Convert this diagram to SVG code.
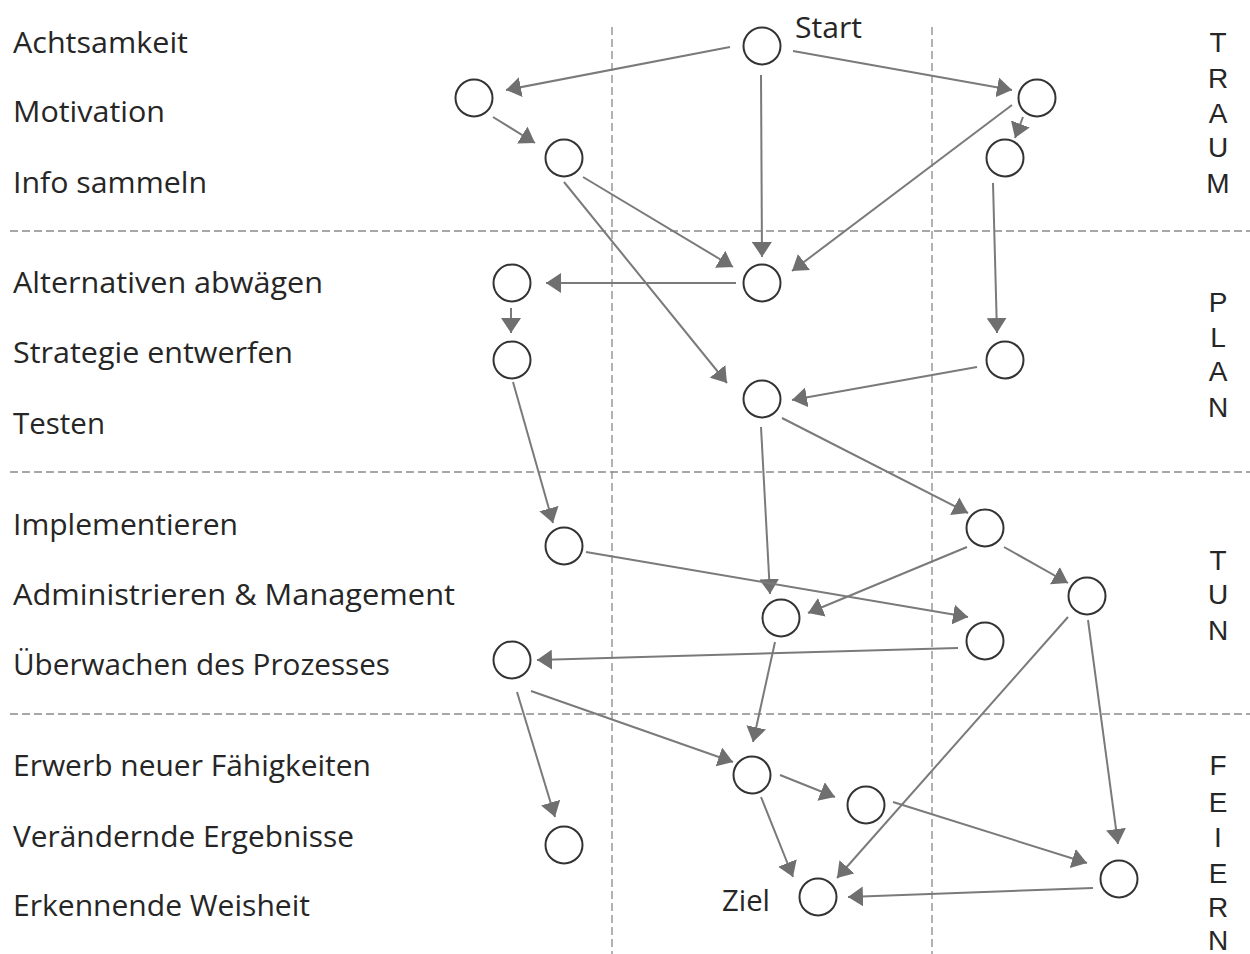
<svg xmlns="http://www.w3.org/2000/svg" width="1250" height="954" viewBox="0 0 1250 954">
<style>
  .lbl { font-family: "Open Sans", "Noto Sans", "Liberation Sans", sans-serif; font-size: 28.5px; fill: #262626; }
  .side { font-family: "Liberation Sans", "Open Sans", sans-serif; font-size: 28px; fill: #262626; text-anchor: middle; }
  .grid { stroke: #8a8a8a; stroke-width: 1.3; stroke-dasharray: 8 4; fill: none; }
  .node { fill: #ffffff; stroke: #333333; stroke-width: 2; }
  .edge { stroke: #7a7a7a; stroke-width: 2; fill: none; marker-end: url(#ah); }
</style>
<defs>
  <marker id="ah" markerUnits="userSpaceOnUse" viewBox="0 0 15 20" markerWidth="15" markerHeight="20" refX="15" refY="10" orient="auto">
    <path d="M0,0 L15,10 L0,20 z" fill="#6f6f6f"/>
  </marker>
</defs>
<rect width="1250" height="954" fill="#ffffff"/>

<g id="grid">
  <line class="grid" x1="612" y1="27" x2="612" y2="954"/>
  <line class="grid" x1="932" y1="27" x2="932" y2="954"/>
  <line class="grid" x1="10" y1="231" x2="1250" y2="231"/>
  <line class="grid" x1="10" y1="472" x2="1250" y2="472"/>
  <line class="grid" x1="10" y1="714" x2="1250" y2="714"/>
</g>

<g id="labels">
  <text class="lbl" x="13" y="53" textLength="175" lengthAdjust="spacingAndGlyphs">Achtsamkeit</text>
  <text class="lbl" x="13" y="122" textLength="152" lengthAdjust="spacingAndGlyphs">Motivation</text>
  <text class="lbl" x="13" y="193" textLength="194" lengthAdjust="spacingAndGlyphs">Info sammeln</text>
  <text class="lbl" x="13" y="293" textLength="310" lengthAdjust="spacingAndGlyphs">Alternativen abwägen</text>
  <text class="lbl" x="13" y="363" textLength="280" lengthAdjust="spacingAndGlyphs">Strategie entwerfen</text>
  <text class="lbl" x="13" y="434" textLength="92" lengthAdjust="spacingAndGlyphs">Testen</text>
  <text class="lbl" x="13" y="535" textLength="225" lengthAdjust="spacingAndGlyphs">Implementieren</text>
  <text class="lbl" x="13" y="605" textLength="442" lengthAdjust="spacingAndGlyphs">Administrieren &amp; Management</text>
  <text class="lbl" x="13" y="675" textLength="377" lengthAdjust="spacingAndGlyphs">Überwachen des Prozesses</text>
  <text class="lbl" x="13" y="776" textLength="358" lengthAdjust="spacingAndGlyphs">Erwerb neuer Fähigkeiten</text>
  <text class="lbl" x="13" y="847" textLength="341" lengthAdjust="spacingAndGlyphs">Verändernde Ergebnisse</text>
  <text class="lbl" x="13" y="916" textLength="297" lengthAdjust="spacingAndGlyphs">Erkennende Weisheit</text>
</g>

<g id="phases">
  <g id="phase-traum">
    <text class="side" x="1218" y="52">T</text>
    <text class="side" x="1218" y="88">R</text>
    <text class="side" x="1218" y="123">A</text>
    <text class="side" x="1218" y="157">U</text>
    <text class="side" x="1218" y="193">M</text>
  </g>
  <g id="phase-plan">
    <text class="side" x="1218" y="312">P</text>
    <text class="side" x="1218" y="347">L</text>
    <text class="side" x="1218" y="381">A</text>
    <text class="side" x="1218" y="417">N</text>
  </g>
  <g id="phase-tun">
    <text class="side" x="1218" y="570">T</text>
    <text class="side" x="1218" y="604">U</text>
    <text class="side" x="1218" y="640">N</text>
  </g>
  <g id="phase-feiern">
    <text class="side" x="1218" y="775">F</text>
    <text class="side" x="1218" y="812">E</text>
    <text class="side" x="1218" y="847">I</text>
    <text class="side" x="1218" y="883">E</text>
    <text class="side" x="1218" y="917">R</text>
    <text class="side" x="1218" y="950">N</text>
  </g>
</g>

<g id="connectors">
  <line class="edge" x1="730" y1="47" x2="506" y2="90"/>
  <line class="edge" x1="493" y1="117" x2="535" y2="143"/>
  <line class="edge" x1="793" y1="51" x2="1012" y2="90"/>
  <line class="edge" x1="1023" y1="117" x2="1015" y2="138"/>
  <line class="edge" x1="761" y1="75" x2="762" y2="257"/>
  <line class="edge" x1="583" y1="177" x2="733" y2="267"/>
  <line class="edge" x1="1012" y1="105" x2="792" y2="271"/>
  <line class="edge" x1="736" y1="283" x2="546" y2="283"/>
  <line class="edge" x1="511" y1="308" x2="511" y2="333"/>
  <line class="edge" x1="564" y1="182" x2="727" y2="383"/>
  <line class="edge" x1="977" y1="367" x2="792" y2="400"/>
  <line class="edge" x1="993" y1="183" x2="997" y2="333"/>
  <line class="edge" x1="513" y1="382" x2="553" y2="523"/>
  <line class="edge" x1="782" y1="418" x2="968" y2="513"/>
  <line class="edge" x1="761" y1="427" x2="770" y2="594"/>
  <line class="edge" x1="586" y1="552" x2="968" y2="617"/>
  <line class="edge" x1="967" y1="547" x2="808" y2="613"/>
  <line class="edge" x1="1004" y1="547" x2="1068" y2="583"/>
  <line class="edge" x1="958" y1="648" x2="537" y2="660"/>
  <line class="edge" x1="517" y1="692" x2="555" y2="817"/>
  <line class="edge" x1="531" y1="691" x2="733" y2="762"/>
  <line class="edge" x1="775" y1="642" x2="753" y2="742"/>
  <line class="edge" x1="780" y1="775" x2="835" y2="797"/>
  <line class="edge" x1="761" y1="797" x2="793" y2="877"/>
  <line class="edge" x1="1068" y1="617" x2="837" y2="878"/>
  <line class="edge" x1="893" y1="802" x2="1087" y2="863"/>
  <line class="edge" x1="1088" y1="620" x2="1118" y2="844"/>
  <line class="edge" x1="1093" y1="888" x2="848" y2="897"/>
</g>

<g id="node-start"><circle class="node" cx="762" cy="46" r="18.5"/><text class="lbl" x="795" y="38" textLength="67" lengthAdjust="spacingAndGlyphs">Start</text></g>
<g id="node-a"><circle class="node" cx="474" cy="98" r="18.5"/></g>
<g id="node-b"><circle class="node" cx="564" cy="158" r="18.5"/></g>
<g id="node-c"><circle class="node" cx="1037" cy="98" r="18.5"/></g>
<g id="node-d"><circle class="node" cx="1005" cy="158" r="18.5"/></g>
<g id="node-e"><circle class="node" cx="762" cy="283" r="18.5"/></g>
<g id="node-f"><circle class="node" cx="512" cy="283" r="18.5"/></g>
<g id="node-g"><circle class="node" cx="512" cy="360" r="18.5"/></g>
<g id="node-h"><circle class="node" cx="762" cy="399" r="18.5"/></g>
<g id="node-i"><circle class="node" cx="1005" cy="360" r="18.5"/></g>
<g id="node-j"><circle class="node" cx="564" cy="546" r="18.5"/></g>
<g id="node-k"><circle class="node" cx="781" cy="618" r="18.5"/></g>
<g id="node-l"><circle class="node" cx="512" cy="660" r="18.5"/></g>
<g id="node-m"><circle class="node" cx="985" cy="528" r="18.5"/></g>
<g id="node-n"><circle class="node" cx="1087" cy="596" r="18.5"/></g>
<g id="node-o"><circle class="node" cx="985" cy="641" r="18.5"/></g>
<g id="node-p"><circle class="node" cx="752" cy="775" r="18.5"/></g>
<g id="node-q"><circle class="node" cx="564" cy="845" r="18.5"/></g>
<g id="node-r"><circle class="node" cx="866" cy="805" r="18.5"/></g>
<g id="node-s"><circle class="node" cx="1119" cy="879" r="18.5"/></g>
<g id="node-ziel"><circle class="node" cx="818" cy="897" r="18.5"/><text class="lbl" x="722" y="911" textLength="48" lengthAdjust="spacingAndGlyphs">Ziel</text></g>
</svg>
